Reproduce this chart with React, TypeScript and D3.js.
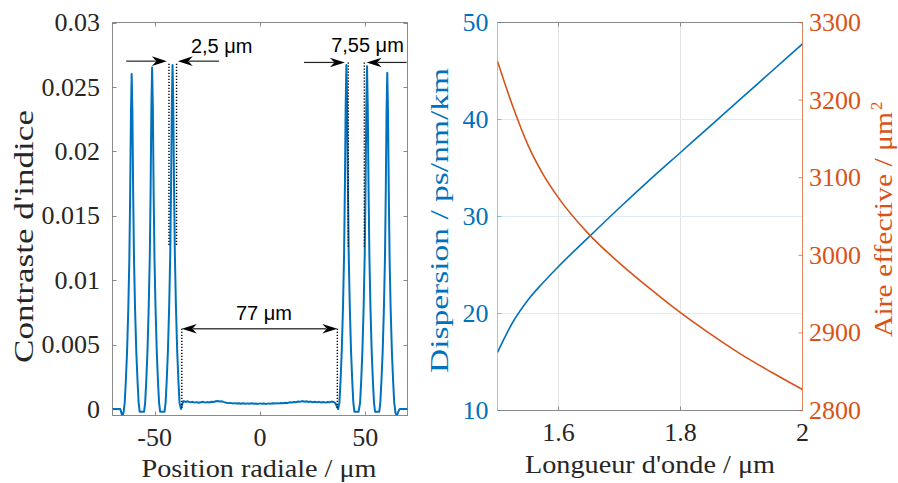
import React from 'react';
import * as d3 from 'd3';

const W = 898;
const H = 483;

// ---------- Left panel: refractive index contrast profile ----------
const indexProfile: [number, number][] = [
  [-70, 0], [-66.3, 0], [-65.6, -0.0004], [-65.1, -0.00045], [-64.7, -0.0002],
  [-64.2, 0.0005], [-63.7, 0.0021], [-63.1, 0.0044], [-62.5, 0.0078], [-62.0, 0.0117], [-61.6, 0.0169], [-61.25, 0.0229],
  [-60.9, 0.026], [-60.55, 0.0229], [-60.2, 0.0169], [-59.8, 0.0117], [-59.3, 0.0078], [-58.7, 0.0044], [-58.1, 0.0021],
  [-57.6, 0.0005], [-57.1, -0.0002], [-56.0, -0.0002], [-55.0, -0.0002],
  [-54.5, 0.0005], [-54.0, 0.0021], [-53.4, 0.0045], [-52.8, 0.008], [-52.3, 0.0119], [-51.9, 0.0172], [-51.55, 0.0233],
  [-51.2, 0.0265], [-50.85, 0.0233], [-50.5, 0.0172], [-50.1, 0.0119], [-49.6, 0.008], [-49.0, 0.0045], [-48.4, 0.0021],
  [-47.9, 0.0005], [-47.4, -0.0002], [-46.3, -0.0002], [-45.3, -0.0002],
  [-44.8, 0.0005], [-44.3, 0.0021], [-43.7, 0.0045], [-43.1, 0.008], [-42.6, 0.012], [-42.2, 0.0174], [-41.85, 0.0235],
  [-41.5, 0.0267], [-41.15, 0.0235], [-40.8, 0.0174], [-40.4, 0.012], [-39.9, 0.008], [-39.3, 0.0045], [-38.7, 0.0021],
  [-38.2, 0.0005], [-37.5, 0.0], [-36.9, 0.0004], [-36.2, 0.00062], [-35.3, 0.00055], [-34.5, 0.0006],
  [-34, 0.00058], [-33, 0.00052], [-32, 0.00056], [-31, 0.0005], [-30, 0.00054], [-29, 0.00049], [-28, 0.00053],
  [-27, 0.00056], [-26, 0.0005], [-25, 0.00054], [-24, 0.00051], [-23, 0.00057], [-22, 0.00055], [-21, 0.0006],
  [-20, 0.00063], [-19, 0.00058], [-18, 0.0006], [-17, 0.00054], [-16, 0.00049], [-15, 0.00046], [-14, 0.00048],
  [-13, 0.00044], [-12, 0.00046], [-11, 0.00043], [-10, 0.00045], [-9, 0.00042], [-8, 0.00045], [-7, 0.00041],
  [-6, 0.00044], [-5, 0.00042], [-4, 0.00045], [-3, 0.00041], [-2, 0.00043], [-1, 0.0004], [0, 0.00044],
  [1, 0.00041], [2, 0.00043], [3, 0.0004], [4, 0.00044], [5, 0.00042], [6, 0.00045], [7, 0.00043],
  [8, 0.00046], [9, 0.00044], [10, 0.00047], [11, 0.00045], [12, 0.00049], [13, 0.00047], [14, 0.00052],
  [15, 0.0005], [16, 0.00055], [17, 0.00053], [18, 0.00058], [19, 0.00056], [20, 0.00062], [21, 0.00057],
  [22, 0.0006], [23, 0.00055], [24, 0.00058], [25, 0.00053], [26, 0.00057], [27, 0.00052], [28, 0.00056],
  [29, 0.00051], [30, 0.00055], [31, 0.0005], [32, 0.00055], [33, 0.00052], [34, 0.00058], [35, 0.00055],
  [35.8, 0.00045], [36.5, 0.0002], [37.1, 0.0],
  [37.7, 0.0005], [38.2, 0.0021], [38.8, 0.0045], [39.4, 0.008], [39.9, 0.012], [40.3, 0.0174], [40.65, 0.0235],
  [41.0, 0.0267], [41.35, 0.0235], [41.7, 0.0174], [42.1, 0.012], [42.6, 0.008], [43.2, 0.0045], [43.8, 0.0021],
  [44.3, 0.0005], [44.8, -0.0002], [45.8, -0.0002], [46.8, -0.0002],
  [47.5, 0.0005], [48.0, 0.0021], [48.6, 0.0045], [49.2, 0.008], [49.7, 0.012], [50.1, 0.0173], [50.45, 0.0234],
  [50.8, 0.0266], [51.15, 0.0234], [51.5, 0.0173], [51.9, 0.012], [52.4, 0.008], [53.0, 0.0045], [53.6, 0.0021],
  [54.1, 0.0005], [54.6, -0.0002], [55.6, -0.0002], [56.6, -0.0002],
  [57.1, 0.0005], [57.6, 0.0021], [58.2, 0.0044], [58.8, 0.0078], [59.3, 0.0117], [59.7, 0.017], [60.05, 0.023],
  [60.4, 0.0261], [60.75, 0.023], [61.1, 0.017], [61.5, 0.0117], [62.0, 0.0078], [62.6, 0.0044], [63.2, 0.0021],
  [63.7, 0.0005], [64.3, -0.0003], [65.0, -0.0005], [65.6, -0.0002], [66.3, 0], [70, 0],
];

const radialTicks = [-50, 0, 50];
const radialTickLabels = ['-50', '0', '50'];
const contrastTicks = [0, 0.005, 0.01, 0.015, 0.02, 0.025, 0.03];
const contrastTickLabels = ['0', '0.005', '0.01', '0.015', '0.02', '0.025', '0.03'];

// annotations (data units of the left panel)
const measureArrows = [
  { from: -63.5, to: -44.2, at: 0.027 },
  { from: -19.4, to: -39.0, at: 0.027 },
  { from: 20.9, to: 40.3, at: 0.0269 },
  { from: 69.6, to: 50.6, at: 0.0269 },
];
const gapArrow = { from: -37.1, to: 36.7, at: 0.00623 };
const guideLines = [
  { x: -43.2, top: 0.0268, bottom: 0.0126 },
  { x: -39.6, top: 0.0268, bottom: 0.0126 },
  { x: 41.9, top: 0.0269, bottom: 0.0126 },
  { x: 49.5, top: 0.0269, bottom: 0.0126 },
  { x: -37.1, top: 0.00623, bottom: 0 },
  { x: 36.7, top: 0.00623, bottom: 0 },
];
const annotationLabels = [
  { text: '2,5 μm', x: -18.2, y: 0.02765 },
  { text: '7,55 μm', x: 51.0, y: 0.0277 },
  { text: '77 μm', x: 1.9, y: 0.0069 },
];

// ---------- Right panel: dispersion and effective area ----------
const wavelength = [1.5, 1.525, 1.55, 1.575, 1.6, 1.65, 1.7, 1.75, 1.8, 1.85, 1.9, 1.95, 2.0];
const dispersion = [16.0, 19.1, 21.4, 23.2, 24.85, 27.9, 30.9, 33.8, 36.6, 39.4, 42.2, 45.0, 47.8];
const effectiveArea = [3250, 3192, 3142, 3104, 3074, 3027, 2990, 2957, 2926, 2898, 2872, 2849, 2827];

const wavelengthTicks = [1.6, 1.8, 2];
const wavelengthTickLabels = ['1.6', '1.8', '2'];
const dispersionTicks = [10, 20, 30, 40, 50];
const areaTicks = [2800, 2900, 3000, 3100, 3200, 3300];

const BLUE = '#0072BD';
const ORANGE = '#D95319';
const TEXT = '#262626';
const AXIS = '#8a8a8a';
const SERIF = "'Liberation Serif', 'Times New Roman', serif";
const SANS = "'Liberation Sans', Arial, sans-serif";

function ArrowHead({ x, y, dir }: { x: number; y: number; dir: number }) {
  const d = `M${x},${y} L${x - dir * 15},${y - 4.8} L${x - dir * 10.5},${y} L${x - dir * 15},${y + 4.8} Z`;
  return <path d={d} fill="#000" />;
}

export default function App() {
  const xL = d3.scaleLinear().domain([-70, 70]).range([112.5, 407.5]);
  const yL = d3.scaleLinear().domain([-0.0005, 0.03]).range([415.5, 22.5]);
  const xR = d3.scaleLinear().domain([1.5, 2]).range([497.5, 802.5]);
  const yD = d3.scaleLinear().domain([10, 50]).range([410.5, 22.5]);
  const yA = d3.scaleLinear().domain([2800, 3300]).range([410.5, 22.5]);

  const profilePath = d3
    .line<[number, number]>()
    .x((d) => xL(d[0]))
    .y((d) => yL(d[1]))(indexProfile) as string;

  const dispPath = d3
    .line<number>()
    .x((_, i) => xR(wavelength[i]))
    .y((d) => yD(d))
    .curve(d3.curveMonotoneX)(dispersion) as string;

  const areaPath = d3
    .line<number>()
    .x((_, i) => xR(wavelength[i]))
    .y((d) => yA(d))
    .curve(d3.curveMonotoneX)(effectiveArea) as string;

  const [lx0, lx1] = xL.range();
  const [ly1, ly0] = yL.range();
  const [rx0, rx1] = xR.range();
  const [ry1, ry0] = yD.range();
  const tk = 4;

  return (
    <svg
      width={W}
      height={H}
      viewBox={`0 0 ${W} ${H}`}
      style={{ position: 'absolute', left: 0, top: 0, background: '#fff' }}
    >
      <rect x={0} y={0} width={W} height={H} fill="#fff" />

      {/* ================= LEFT PANEL ================= */}
      <defs>
        <clipPath id="clipL">
          <rect x={lx0} y={ly0} width={lx1 - lx0} height={ly1 - ly0} />
        </clipPath>
        <clipPath id="clipR">
          <rect x={rx0} y={ry0} width={rx1 - rx0} height={ry1 - ry0} />
        </clipPath>
      </defs>

      <rect x={lx0} y={ly0} width={lx1 - lx0} height={ly1 - ly0} fill="none" stroke={AXIS} strokeWidth={1} />
      {contrastTicks.map((t) => (
        <g key={'lyt' + t}>
          <line x1={lx0} x2={lx0 + tk} y1={Math.round(yL(t)) + 0.5} y2={Math.round(yL(t)) + 0.5} stroke={AXIS} />
          <line x1={lx1} x2={lx1 - tk} y1={Math.round(yL(t)) + 0.5} y2={Math.round(yL(t)) + 0.5} stroke={AXIS} />
        </g>
      ))}
      {radialTicks.map((t) => (
        <g key={'lxt' + t}>
          <line x1={Math.round(xL(t)) + 0.5} x2={Math.round(xL(t)) + 0.5} y1={ly1} y2={ly1 - tk} stroke={AXIS} />
          <line x1={Math.round(xL(t)) + 0.5} x2={Math.round(xL(t)) + 0.5} y1={ly0} y2={ly0 + tk} stroke={AXIS} />
        </g>
      ))}

      <path d={profilePath} fill="none" stroke={BLUE} strokeWidth={2} strokeLinejoin="round" clipPath="url(#clipL)" />

      {/* guide dotted lines */}
      {guideLines.map((g, i) => (
        <line
          key={'g' + i}
          x1={xL(g.x)}
          x2={xL(g.x)}
          y1={yL(g.top)}
          y2={yL(g.bottom)}
          stroke="#000"
          strokeWidth={1.4}
          strokeDasharray="1.3 1.7"
        />
      ))}

      {/* measurement arrows */}
      {measureArrows.map((a, i) => {
        const dir = a.to > a.from ? 1 : -1;
        const y = yL(a.at);
        return (
          <g key={'a' + i}>
            <line x1={xL(a.from)} x2={xL(a.to) - dir * 11} y1={y} y2={y} stroke="#222" strokeWidth={1.2} />
            <ArrowHead x={xL(a.to)} y={y} dir={dir} />
          </g>
        );
      })}
      <g>
        <line
          x1={xL(gapArrow.from) + 11}
          x2={xL(gapArrow.to) - 11}
          y1={yL(gapArrow.at)}
          y2={yL(gapArrow.at)}
          stroke="#444"
          strokeWidth={1.4}
        />
        <ArrowHead x={xL(gapArrow.from)} y={yL(gapArrow.at)} dir={-1} />
        <ArrowHead x={xL(gapArrow.to)} y={yL(gapArrow.at)} dir={1} />
      </g>
      {annotationLabels.map((l) => (
        <text
          key={l.text}
          x={xL(l.x)}
          y={yL(l.y)}
          textAnchor="middle"
          fontFamily={SANS}
          fontSize={20}
          fill="#000"
        >
          {l.text}
        </text>
      ))}

      {/* left axis tick labels */}
      {contrastTicks.map((t, i) => (
        <text
          key={'lyl' + t}
          x={100}
          y={yL(t)}
          dy="0.33em"
          textAnchor="end"
          fontFamily={SERIF}
          fontSize={26}
          fill={TEXT}
        >
          {contrastTickLabels[i]}
        </text>
      ))}
      {radialTicks.map((t, i) => (
        <text
          key={'lxl' + t}
          x={xL(t)}
          y={445.5}
          textAnchor="middle"
          fontFamily={SERIF}
          fontSize={26}
          fill={TEXT}
        >
          {radialTickLabels[i]}
        </text>
      ))}
      <text
        x={141.5}
        y={476.5}
        fontFamily={SERIF}
        fontSize={26}
        fill={TEXT}
        textLength={235}
        lengthAdjust="spacingAndGlyphs"
      >
        Position radiale / μm
      </text>
      <text
        transform="translate(32.5,363) rotate(-90)"
        fontFamily={SERIF}
        fontSize={27}
        fill={TEXT}
        textLength={253}
        lengthAdjust="spacingAndGlyphs"
      >
        Contraste d'indice
      </text>

      {/* ================= RIGHT PANEL ================= */}
      {wavelengthTicks.slice(0, 2).map((t) => (
        <line key={'vg' + t} x1={xR(t)} x2={xR(t)} y1={ry0} y2={ry1} stroke="#e3e3e3" strokeWidth={1} />
      ))}
      {dispersionTicks.slice(1, 4).map((t) => (
        <line key={'hg' + t} x1={rx0} x2={rx1} y1={yD(t)} y2={yD(t)} stroke="#ddebf6" strokeWidth={1} />
      ))}

      <path d={dispPath} fill="none" stroke={BLUE} strokeWidth={1.6} clipPath="url(#clipR)" />
      <path d={areaPath} fill="none" stroke={ORANGE} strokeWidth={1.6} clipPath="url(#clipR)" />

      {/* axes */}
      <line x1={rx0} x2={rx1} y1={ry0} y2={ry0} stroke={AXIS} />
      <line x1={rx0} x2={rx1} y1={ry1} y2={ry1} stroke={AXIS} />
      <line x1={rx0} x2={rx0} y1={ry0} y2={ry1} stroke={BLUE} strokeOpacity={0.4} />
      <line x1={rx1} x2={rx1} y1={ry0} y2={ry1} stroke={ORANGE} strokeOpacity={0.7} />
      {wavelengthTicks.map((t) => (
        <g key={'rxt' + t}>
          <line x1={xR(t)} x2={xR(t)} y1={ry1} y2={ry1 - tk} stroke={AXIS} />
          <line x1={xR(t)} x2={xR(t)} y1={ry0} y2={ry0 + tk} stroke={AXIS} />
        </g>
      ))}
      {dispersionTicks.map((t) => (
        <line key={'dt' + t} x1={rx0} x2={rx0 + tk} y1={yD(t)} y2={yD(t)} stroke={BLUE} strokeOpacity={0.4} />
      ))}
      {areaTicks.map((t) => (
        <line key={'at' + t} x1={rx1} x2={rx1 - tk} y1={yA(t)} y2={yA(t)} stroke={ORANGE} strokeOpacity={0.7} />
      ))}

      {/* tick labels */}
      {wavelengthTicks.map((t, i) => (
        <text
          key={'rxl' + t}
          x={xR(t)}
          y={440.5}
          textAnchor="middle"
          fontFamily={SERIF}
          fontSize={26}
          fill={TEXT}
        >
          {wavelengthTickLabels[i]}
        </text>
      ))}
      {dispersionTicks.map((t) => (
        <text
          key={'dl' + t}
          x={488.5}
          y={yD(t)}
          dy="0.33em"
          textAnchor="end"
          fontFamily={SERIF}
          fontSize={26}
          fill={BLUE}
        >
          {t}
        </text>
      ))}
      {areaTicks.map((t) => (
        <text
          key={'al' + t}
          x={809}
          y={yA(t)}
          dy="0.33em"
          textAnchor="start"
          fontFamily={SERIF}
          fontSize={26}
          fill={ORANGE}
        >
          {t}
        </text>
      ))}

      <text
        x={525}
        y={473}
        fontFamily={SERIF}
        fontSize={26}
        fill={TEXT}
        textLength={250}
        lengthAdjust="spacingAndGlyphs"
      >
        Longueur d'onde / μm
      </text>
      <text
        transform="translate(447.5,373) rotate(-90)"
        fontFamily={SERIF}
        fontSize={26}
        fill={BLUE}
        textLength={305}
        lengthAdjust="spacingAndGlyphs"
      >
        Dispersion / ps/nm/km
      </text>
      <g transform="translate(892,337) rotate(-90)">
        <text
          x={0}
          y={0}
          fontFamily={SERIF}
          fontSize={26}
          fill={ORANGE}
          textLength={225}
          lengthAdjust="spacingAndGlyphs"
        >
          Aire effective / μm
        </text>
        <text x={227} y={-10} fontFamily={SERIF} fontSize={17} fill={ORANGE}>
          2
        </text>
      </g>
    </svg>
  );
}
